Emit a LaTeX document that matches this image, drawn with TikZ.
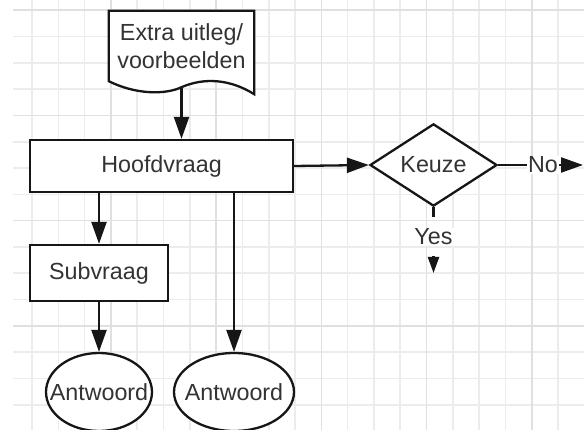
\documentclass[tikz,border=0pt]{standalone}
\usepackage{fontspec}
\setmainfont{Liberation Sans}
\usetikzlibrary{arrows.meta,shapes.geometric,calc,backgrounds}
\definecolor{gridMinor}{RGB}{236,236,236}
\definecolor{gridMajor}{RGB}{224,224,224}
\definecolor{inkGray}{RGB}{51,51,51}
\definecolor{lineBlack}{RGB}{22,22,22}

\tikzset{
    box/.style={draw=lineBlack, line width=2.3pt, fill=white, text=inkGray, inner sep=0pt},
    conn/.style={draw=lineBlack, line width=2.3pt},
    arr/.style={conn, -{Triangle[length=22pt, width=15pt]}},
    smallarr/.style={conn, -{Triangle[length=16pt, width=11pt]}},
    lbl/.style={text=inkGray, fill=white, inner sep=1pt},
}

\begin{document}
\begin{tikzpicture}[x=1pt, y=-1pt, font=\fontsize{23.3}{28}\selectfont]
    \newcommand\gridstep{26.3}
    \newcommand\gridleft{32}
    \newcommand\gridtop{10.3}

    \useasboundingbox (0,0) rectangle (584,430);

    % grid paper
    \begin{scope}[on background layer]
        \fill[white] (0,0) rectangle (584,430);
        \foreach \k in {0,...,21}
            \draw[gridMinor, line width=1.6pt] (\gridleft+\k*\gridstep, 0) -- (\gridleft+\k*\gridstep, 430);
        \foreach \k in {0,...,16}
            \draw[gridMinor, line width=1.6pt] (13, \gridtop+\k*\gridstep) -- (584, \gridtop+\k*\gridstep);
        \foreach \k in {3,7,...,19}
            \draw[gridMajor, line width=1.6pt] (\gridleft+\k*\gridstep, 0) -- (\gridleft+\k*\gridstep, 430);
        \foreach \k in {0,4,...,16}
            \draw[gridMajor, line width=1.6pt] (13, \gridtop+\k*\gridstep) -- (584, \gridtop+\k*\gridstep);
    \end{scope}

    % document shape
    \node[text=inkGray, align=center, inner sep=0pt, minimum width=145, minimum height=70] (doc) at (181.5,46) {Extra uitleg/\\voorbeelden};
    \coordinate (docfoot) at ($(doc.south)+(0,6)$);
    \begin{scope}[on background layer]
        \draw[conn, fill=white] (doc.south west) -- (doc.north west) -- (doc.north east)
            -- ($(doc.south east)+(0,13)$) .. controls +(-24,-15) and +(23,-10) .. (docfoot)
            .. controls +(-17,8) and +(26,13) .. (doc.south west) -- cycle;
    \end{scope}

    \node[box, minimum width=263, minimum height=52] (hoofd) at (161.5,166) {Hoofdvraag};
    \node[box, diamond, minimum width=127, minimum height=76] (keuze) at (433.5,165) {Keuze};
    \node[box, minimum width=138, minimum height=56] (sub) at (99,273) {Subvraag};
    \node[box, ellipse, minimum width=106, minimum height=78, label={[text=inkGray]center:Antwoord}] (ant1) at (99,392) {};
    \node[box, ellipse, minimum width=120, minimum height=78, label={[text=inkGray]center:Antwoord}] (ant2) at (234,392) {};

    % branch labels
    \node[lbl] (no) at (543,165) {No};
    \node[lbl] (yes) at (433.5,237) {Yes};
    \coordinate (noend) at (583,165);
    \coordinate (yesgap) at (433.5,217);
    \coordinate (yestip) at (433.5,256);
    \coordinate (yesend) at (433.5,273);

    % draw arrow
    \draw[arr] (docfoot) -- (docfoot |- hoofd.north);
    \draw[arr] (hoofd.east) -- (keuze.west);
    \draw[conn] (keuze.east) -- (no.west);
    \draw[arr] (no.east) -- (noend);
    \draw[conn] (keuze.south) -- (yesgap);
    \draw[smallarr] (yestip) -- (yesend);
    \draw[arr] (hoofd.south -| sub.north) -- (sub.north);
    \draw[arr] (sub.south) -- (ant1.north);
    \draw[arr] (hoofd.south -| ant2.north) -- (ant2.north);
\end{tikzpicture}
\end{document}
